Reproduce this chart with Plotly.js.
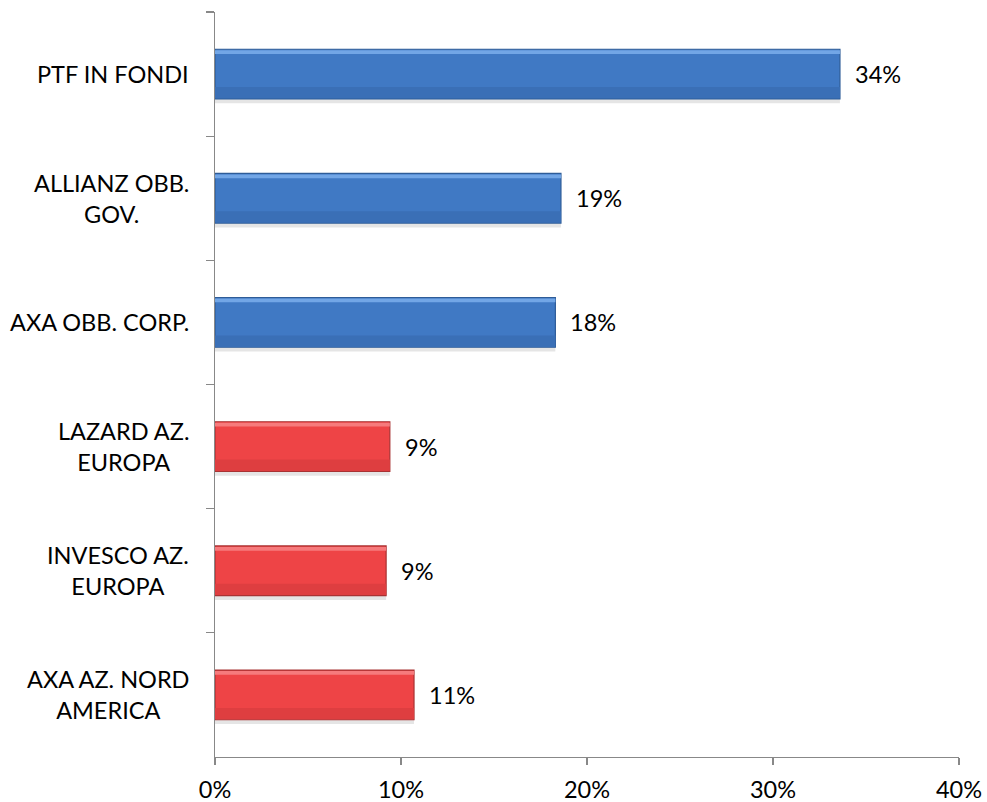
<!DOCTYPE html>
<html>
<head>
<meta charset="utf-8">
<script src="https://cdn.plot.ly/plotly-3.0.1.min.js"></script>
<style>html,body{margin:0;padding:0;background:#fff;}#chart{width:987px;height:802px;}</style>
</head>
<body>
<div id="chart"></div>
<script>
const categories = ["PTF IN FONDI", "ALLIANZ OBB.<br>GOV.", "AXA OBB. CORP.", "LAZARD AZ.<br>EUROPA", "INVESCO AZ.<br>EUROPA", "AXA AZ. NORD<br>AMERICA"];
const values = [0.336, 0.186, 0.183, 0.094, 0.092, 0.107];
const valueLabels = ["34%", "19%", "18%", "9%", "9%", "11%"];
const barColors = ["#4079C4", "#4079C4", "#4079C4", "#EE4446", "#EE4446", "#EE4446"];
const highlightColors = ["#72A6E6", "#72A6E6", "#72A6E6", "#F67A7C", "#F67A7C", "#F67A7C"];
const shadeColors = ["#3A6FB6", "#3A6FB6", "#3A6FB6", "#DE3E40", "#DE3E40", "#DE3E40"];
const borderColors = ["#2E5C98", "#2E5C98", "#2E5C98", "#A83233", "#A83233", "#A83233"];
const xTickVals = [0, 0.1, 0.2, 0.3, 0.4];

const FONT = "Lato, 'Liberation Sans', sans-serif";
const FS = 23.5;

const shadow = {
  type: "bar", orientation: "h", y: categories, x: values,
  width: 0.035, offset: 0.2,
  marker: { color: "rgba(0,0,0,0.10)", line: { width: 0 } }, hoverinfo: "none"
};
const main = {
  type: "bar", orientation: "h", y: categories, x: values,
  width: 0.4, offset: -0.2,
  marker: { color: barColors, line: { color: borderColors, width: 1.2 } },
  hoverinfo: "none"
};
const shade = {
  type: "bar", orientation: "h", y: categories, x: values,
  width: 0.09, offset: 0.105,
  marker: { color: shadeColors, line: { width: 0 } }, hoverinfo: "none"
};
const highlight = {
  type: "bar", orientation: "h", y: categories, x: values,
  width: 0.03, offset: -0.192,
  marker: { color: highlightColors, line: { width: 0 } }, hoverinfo: "none"
};

const annotations = [];
categories.forEach((c, i) => {
  annotations.push({
    xref: "paper", yref: "y", x: 0, y: c, xanchor: "right", yanchor: "middle",
    xshift: -24, text: c, showarrow: false, align: "center",
    font: { family: FONT, size: FS, color: "#000" }
  });
  annotations.push({
    xref: "x", yref: "y", x: values[i], y: c, xanchor: "left", yanchor: "middle",
    xshift: 13, text: valueLabels[i], showarrow: false,
    font: { family: FONT, size: FS, color: "#000" }
  });
});

const layout = {
  width: 987, height: 802,
  margin: { l: 215, r: 28, t: 12, b: 45 },
  paper_bgcolor: "#fff", plot_bgcolor: "#fff",
  showlegend: false,
  barmode: "overlay",
  font: { family: FONT, size: FS, color: "#000" },
  xaxis: {
    range: [0, 0.4], tickvals: xTickVals, tickformat: ".0%",
    showgrid: false, zeroline: false, showline: true, linecolor: "#888", linewidth: 1.3,
    ticks: "outside", ticklen: 7, tickcolor: "#888", tickwidth: 1.3,
    ticklabelstandoff: 4,
    tickfont: { family: FONT, size: FS, color: "#000" }
  },
  yaxis: {
    type: "category", autorange: "reversed", tickson: "boundaries",
    showgrid: false, zeroline: false, showline: true, linecolor: "#888", linewidth: 1.3,
    ticks: "outside", ticklen: 8, tickcolor: "#888", tickwidth: 1.3,
    showticklabels: false
  },
  annotations: annotations
};

Plotly.newPlot("chart", [shadow, main, shade, highlight], layout, { displayModeBar: false, staticPlot: true });
</script>
</body>
</html>
